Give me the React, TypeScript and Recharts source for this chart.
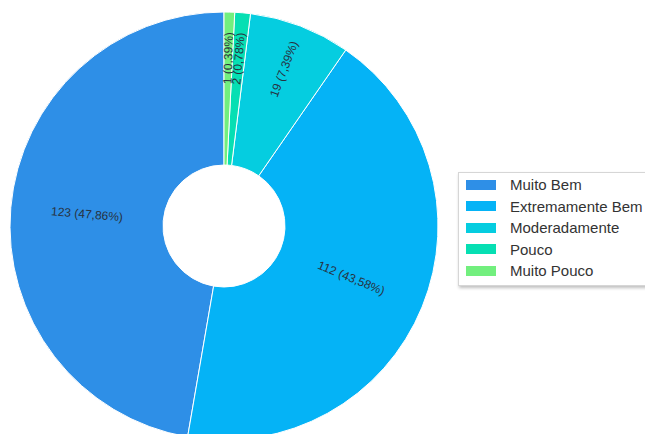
import { PieChart, Pie, Cell, Legend } from 'recharts';

const categories = ['Muito Bem', 'Extremamente Bem', 'Moderadamente', 'Pouco', 'Muito Pouco'];
const counts = [123, 112, 19, 2, 1];
const percentLabels = ['47,86%', '43,58%', '7,39%', '0,78%', '0,39%'];
const colors = ['#2E8FE7', '#05B3F6', '#05CDE0', '#06DFB3', '#72EF7E'];

const chartData = categories.map((name, i) => ({
  name,
  value: counts[i],
  pct: percentLabels[i],
}));

const RAD = Math.PI / 180;

const renderLabel = (props: any) => {
  const { cx, cy, midAngle, innerRadius, outerRadius, percent, index } = props;
  // small slices get pushed towards the outer edge
  const r = percent < 0.1 ? outerRadius - 46 : (innerRadius + outerRadius) / 2;
  const x = cx + r * Math.cos(-midAngle * RAD);
  const y = cy + r * Math.sin(-midAngle * RAD);
  let rot = -midAngle;
  while (rot > 90) rot -= 180;
  while (rot < -90) rot += 180;
  return (
    <text
      x={x}
      y={y}
      fill="#27323f"
      fontSize={12}
      fontFamily="Arial, 'Liberation Sans', sans-serif"
      textAnchor="middle"
      dominantBaseline="central"
      transform={`rotate(${rot}, ${x}, ${y})`}
    >
      {`${chartData[index].value} (${chartData[index].pct})`}
    </text>
  );
};

// legend in data order (recharts would sort it otherwise)
const renderLegend = () => (
  <div
    style={{
      background: '#fff',
      border: '1px solid #d6d6d6',
      boxShadow: '1px 2px 3px rgba(0,0,0,0.25)',
      padding: '1px 0 3px 7px',
      width: 200,
      fontFamily: "Arial, 'Liberation Sans', sans-serif",
      fontSize: 15,
      color: '#333',
    }}
  >
    {categories.map((name, i) => (
      <div key={name} style={{ display: 'flex', alignItems: 'center', height: 21.5 }}>
        <span
          style={{
            display: 'inline-block',
            width: 30,
            height: 10,
            background: colors[i],
            marginRight: 14,
          }}
        />
        <span>{name}</span>
      </div>
    ))}
  </div>
);

export default function App() {
  return (
    <div style={{ position: 'absolute', left: 0, top: 0, width: 645, height: 434 }}>
      <PieChart width={645} height={434} margin={{ top: 0, right: 0, bottom: 0, left: 0 }}>
        <Pie
          data={chartData}
          dataKey="value"
          nameKey="name"
          cx={224}
          cy={226}
          innerRadius={61}
          outerRadius={214}
          startAngle={90}
          endAngle={450}
          minAngle={1.5}
          stroke="#ffffff"
          strokeWidth={1}
          label={renderLabel}
          labelLine={false}
          isAnimationActive={false}
        >
          {chartData.map((d, i) => (
            <Cell key={d.name} fill={colors[i]} />
          ))}
        </Pie>
        <Legend
          content={renderLegend}
          layout="vertical"
          wrapperStyle={{ position: 'absolute', left: 458, top: 172, width: 200 }}
        />
      </PieChart>
    </div>
  );
}
